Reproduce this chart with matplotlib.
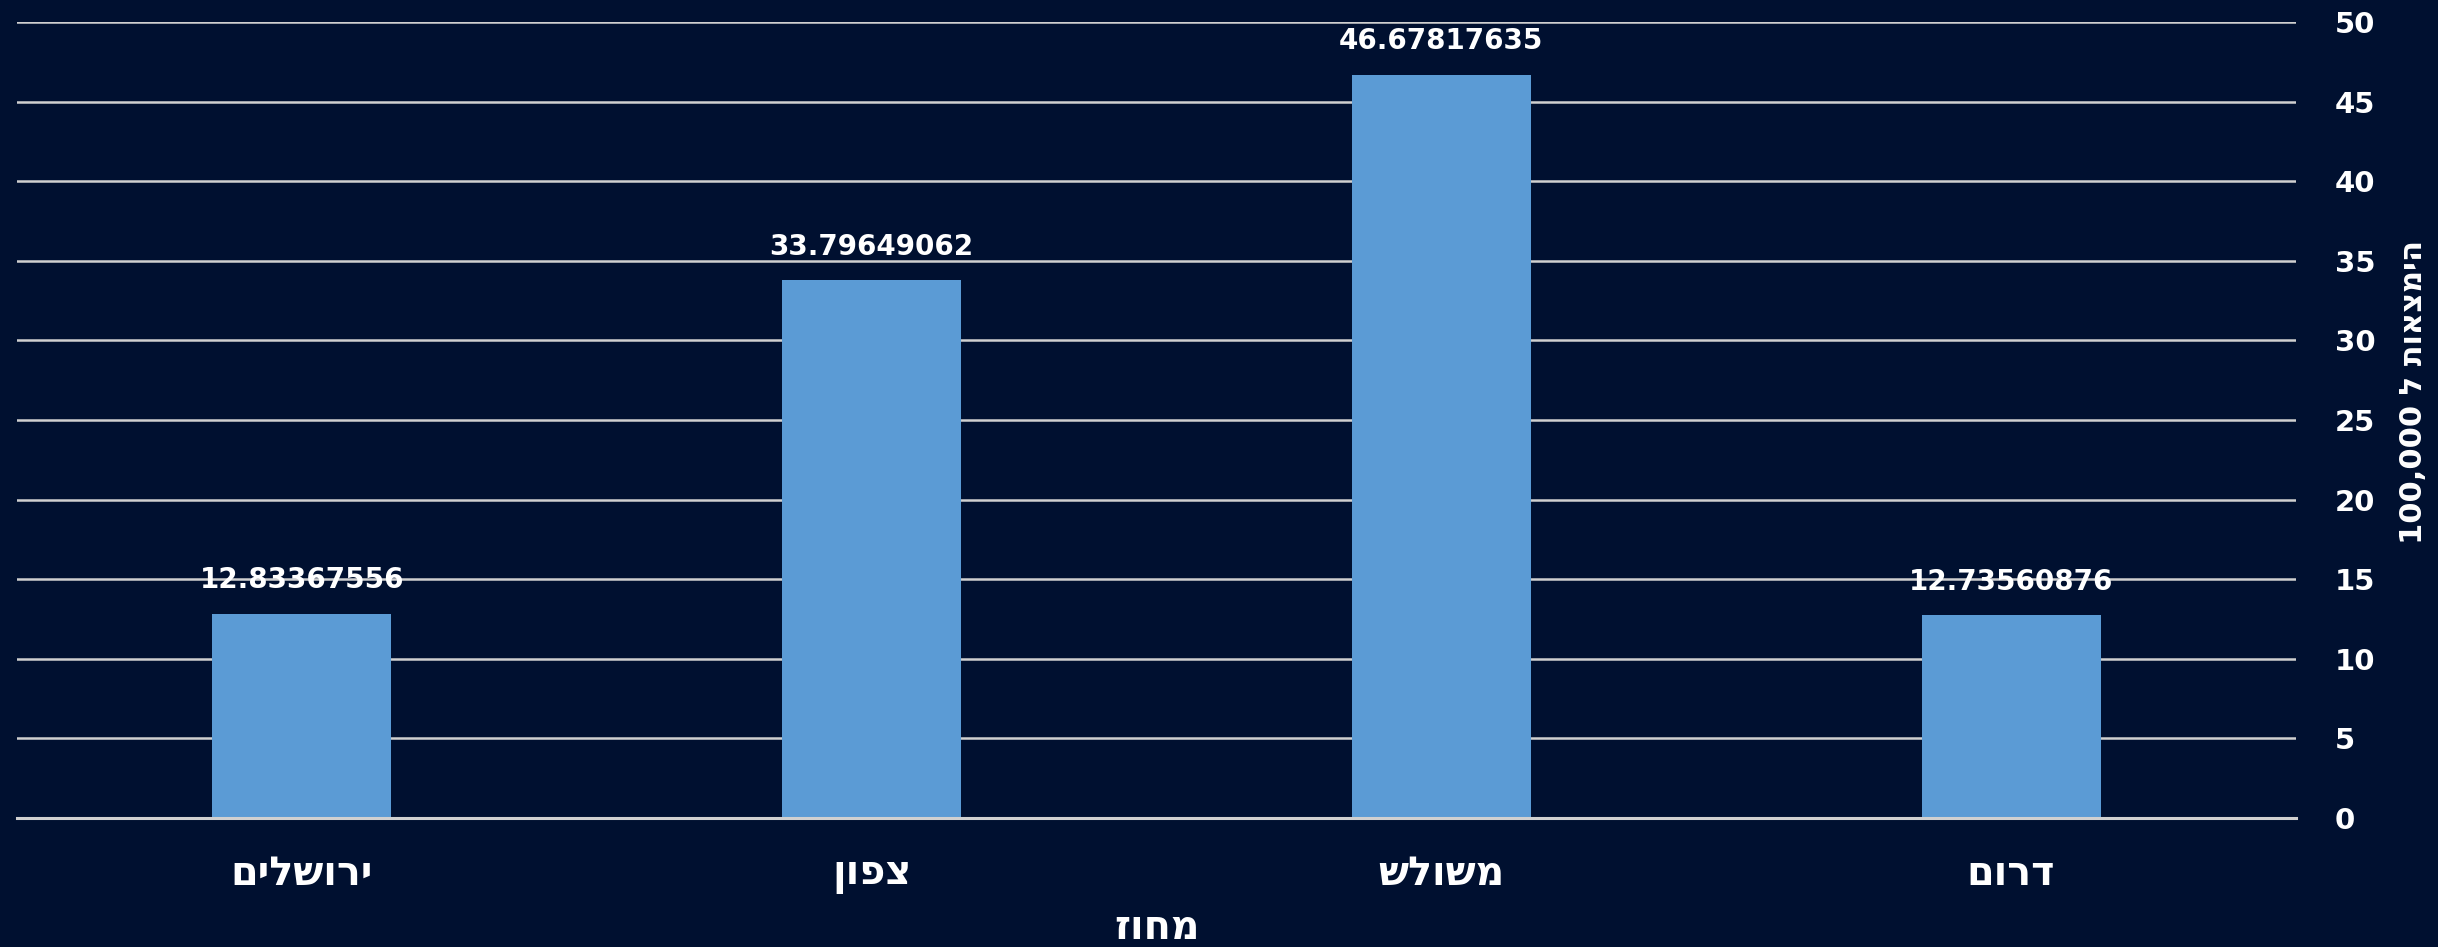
import matplotlib
matplotlib.use("Agg")
import matplotlib.pyplot as plt

# districts (logical Hebrew order) and rate per 100,000
districts = ["ירושלים", "צפון", "משולש", "דרום"]
rates = [12.83367556, 33.79649062, 46.67817635, 12.73560876]
yticks = [0, 5, 10, 15, 20, 25, 30, 35, 40, 45, 50]

x_title = "מחוז"
y_word = "הימצאות"

bg = "#001030"
bar_color = "#5b9bd5"
grid_color = "#d0d0d0"


def vis(s):
    # matplotlib has no bidi support, so flip Hebrew to visual order
    return s[::-1]


fig = plt.figure(figsize=(24.38, 9.47), dpi=100, facecolor=bg)
ax = fig.add_axes([17 / 2438, 1 - 818 / 947, (2296 - 17) / 2438, (818 - 22) / 947])
ax.set_facecolor(bg)

pos = list(range(len(districts)))
bars = ax.bar(pos, rates, width=0.314, color=bar_color, zorder=3)

for p, v in zip(pos, rates):
    ax.annotate(f"{v:.8f}", (p, v), xytext=(0, 14), textcoords="offset points",
                ha="center", va="bottom", color="white", fontsize=20,
                fontweight="bold", zorder=4)

ax.set_xlim(-0.5, 3.5)
ax.set_ylim(0, 50)
ax.set_yticks(yticks)
ax.yaxis.tick_right()
ax.yaxis.set_label_position("right")
ax.tick_params(axis="y", length=0, pad=28, labelsize=21, labelcolor="white")
for t in ax.get_yticklabels():
    t.set_fontweight("bold")
ax.set_xticks(pos)
ax.set_xticklabels([vis(d) for d in districts], fontsize=28.5, color="white",
                   fontweight="semibold")
ax.tick_params(axis="x", length=0, pad=26)

ax.grid(axis="y", color=grid_color, linewidth=1.8, zorder=1)
ax.axhline(0, color=grid_color, linewidth=2.2, zorder=4, clip_on=False)
for s in ax.spines.values():
    s.set_visible(False)

ax.set_xlabel(vis(x_title), fontsize=28.5, color="white", fontweight="semibold",
              labelpad=10)
ax.set_ylabel("100,000 " + "ל" + " " + vis(y_word), fontsize=22, color="white",
              fontweight="bold", rotation=90, labelpad=22)
ax.yaxis.set_label_coords(1.045, 0.535)

fig.savefig("out.png", dpi=100, facecolor=bg)
